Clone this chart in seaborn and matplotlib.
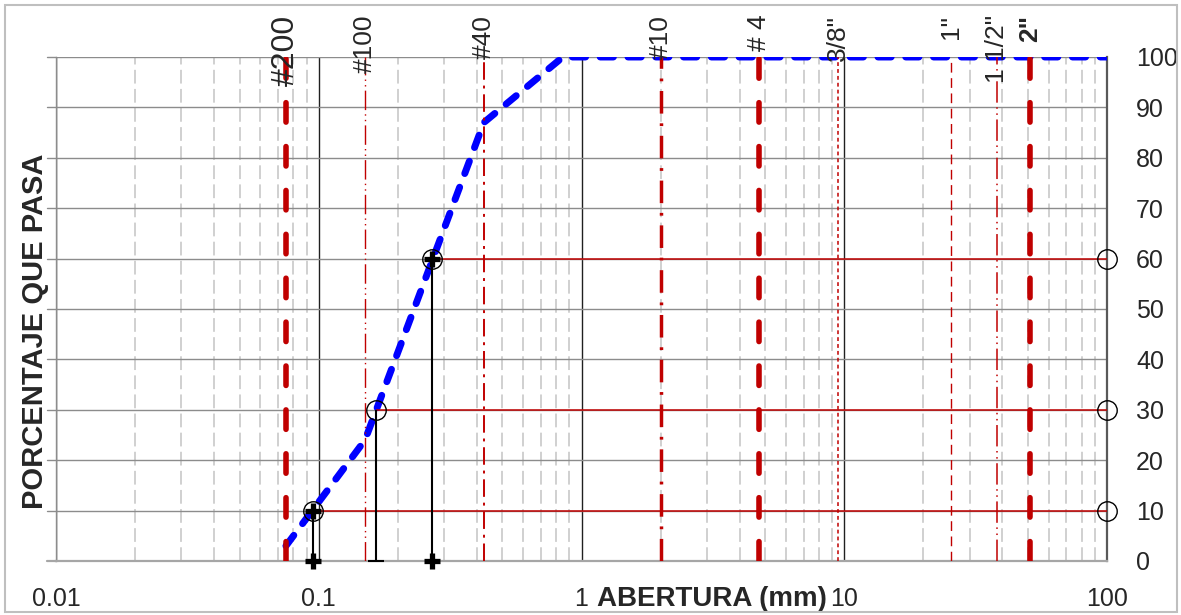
import matplotlib
matplotlib.use("Agg")
import matplotlib.pyplot as plt
import matplotlib.transforms as mtransforms
from matplotlib.patches import Rectangle
from matplotlib.ticker import LogLocator, NullFormatter
import pandas as pd
import seaborn as sns

# curva granulometrica (abertura en mm, % que pasa)
abertura = [0.075, 0.15, 0.425, 0.85, 2.0, 4.75, 9.5, 25.4, 38.1, 50.8, 100]
pasa = [3, 24, 87, 100, 100, 100, 100, 100, 100, 100, 100]

# diametros D10, D30, D60
d_valores = [0.095, 0.165, 0.27]
d_pct = [10, 30, 60]

# tamices de referencia
tamiz_nombre = ["#200", "#100", "#40", "#10", "# 4", '3/8"', '1"', '1 1/2"', '2"']
tamiz_abertura = [0.075, 0.15, 0.425, 2.0, 4.75, 9.5, 25.4, 38.1, 50.8]

x_ticks = [0.01, 0.1, 1, 10, 100]
x_ticklabels = ["0.01", "0.1", "1", "10", "100"]
y_ticks = list(range(0, 101, 10))

ROJO = "#C00000"
GRIS = "#8C8C8C"

# estilo de cada linea de tamiz
estilos = [
    dict(lw=4.0, ls=(0, (3.5, 4.4)), cap="round", size=23, weight="normal"),
    dict(lw=1.0, ls=(0, (14, 3, 1, 3, 1, 3)), cap="butt", size=19, weight="normal"),
    dict(lw=1.4, ls=(0, (9, 3, 1.5, 3)), cap="butt", size=19, weight="normal"),
    dict(lw=2.5, ls=(0, (6.5, 2.8, 0.8, 2.8)), cap="butt", size=19, weight="normal"),
    dict(lw=4.0, ls=(0, (3.5, 4.4)), cap="round", size=19, weight="normal"),
    dict(lw=1.1, ls=(0, (2.5, 2)), cap="butt", size=19, weight="normal"),
    dict(lw=1.0, ls=(0, (7, 4)), cap="butt", size=19, weight="normal"),
    dict(lw=1.1, ls=(0, (14, 3, 1, 3, 1, 3)), cap="butt", size=19, weight="normal"),
    dict(lw=4.0, ls=(0, (3.5, 4.4)), cap="round", size=19, weight="bold"),
]

sns.set_style("white")
plt.rcParams["font.family"] = ["Liberation Sans", "DejaVu Sans"]

fig = plt.figure(figsize=(11.81, 6.15), dpi=100)
ax = fig.add_axes([56 / 1181, 54 / 615, 1051 / 1181, 504 / 615])
ax.set_xscale("log")
ax.set_xlim(x_ticks[0], x_ticks[-1])
ax.set_ylim(y_ticks[0], y_ticks[-1])

# rejilla
ax.xaxis.set_minor_locator(LogLocator(base=10, subs=range(2, 10)))
ax.xaxis.set_minor_formatter(NullFormatter())
ax.grid(which="minor", axis="x", color="#C4C4C4", lw=1.1, ls=(0, (9, 3.5)))
ax.grid(which="major", axis="x", color="#202020", lw=1.0)
ax.grid(which="major", axis="y", color=GRIS, lw=1.0)
ax.set_axisbelow(True)

ax.set_xticks(x_ticks)
ax.set_xticklabels(x_ticklabels)
ax.set_yticks(y_ticks)
ax.yaxis.tick_right()
ax.tick_params(axis="x", which="major", direction="out", length=6.5, width=1.2,
               color="#A6A6A6", pad=12, labelsize=18)
ax.tick_params(axis="x", which="minor", length=0)
ax.tick_params(axis="y", length=0, pad=21, labelsize=18)

ax.spines["top"].set_visible(False)
ax.spines["left"].set_color(GRIS)
ax.spines["left"].set_linewidth(1.0)
ax.spines["bottom"].set_color("#A6A6A6")
ax.spines["bottom"].set_linewidth(1.6)
ax.spines["right"].set_color("#595959")
ax.spines["right"].set_linewidth(1.6)

# marcas cortas a la izquierda de la rejilla horizontal
trans = mtransforms.blended_transform_factory(ax.transAxes, ax.transData)
for y in y_ticks:
    ax.plot([-0.0086, 0], [y, y], color=GRIS if y else "#A6A6A6",
            lw=1.0 if y else 1.6, transform=trans, clip_on=False)

# curva granulometrica
df = pd.DataFrame({"abertura": abertura, "pasa": pasa})
sns.lineplot(data=df, x="abertura", y="pasa", ax=ax, color="#0000FF", lw=5,
             linestyle=(0, (1.9, 2.1)), dash_capstyle="round", errorbar=None,
             zorder=3)

# lineas de tamices
for nombre, a, st in zip(tamiz_nombre, tamiz_abertura, estilos):
    ax.axvline(a, color=ROJO, lw=st["lw"], linestyle=st["ls"],
               dash_capstyle=st["cap"], zorder=4)
    ax.text(a, 108.4, nombre, rotation=90, ha="center", va="top",
            fontsize=st["size"], fontweight=st["weight"], zorder=10,
            clip_on=False)

# lineas de D10, D30, D60
for d, p in zip(d_valores, d_pct):
    ax.hlines(p, d, x_ticks[-1], color=ROJO, lw=1.1, zorder=5)
    ax.vlines(d, 0, p, color="black", lw=1.5, zorder=5)
    ax.plot([d, x_ticks[-1]], [p, p], ls="none", marker="o", ms=14, mfc="none",
            mec="black", mew=1.0, clip_on=False, zorder=8)

for d, p in zip(d_valores, d_pct):
    if p == 30:
        ax.plot(d, 0, marker="_", ms=11, mew=1.5, color="black",
                clip_on=False, zorder=8)
    else:
        ax.plot([d, d], [p, 0], ls="none", marker="+", ms=12, mew=3.8,
                color="black", clip_on=False, zorder=8)

# titulos de ejes
ax.text(-0.020, 0.456, "PORCENTAJE QUE PASA", rotation=90, ha="center",
        va="center", fontsize=21, fontweight="bold", transform=ax.transAxes)
ax.text(0.624, -0.0754, "ABERTURA (mm)", ha="center", va="center",
        fontsize=20, fontweight="bold", transform=ax.transAxes)
ax.set_xlabel("")
ax.set_ylabel("")

# borde de la figura
fig.patches.append(Rectangle((5 / 1181, 3 / 615), 1172 / 1181, 607 / 615,
                             transform=fig.transFigure, fill=False,
                             edgecolor="#BFBFBF", lw=1.5))

fig.savefig("out.png", dpi=100)
